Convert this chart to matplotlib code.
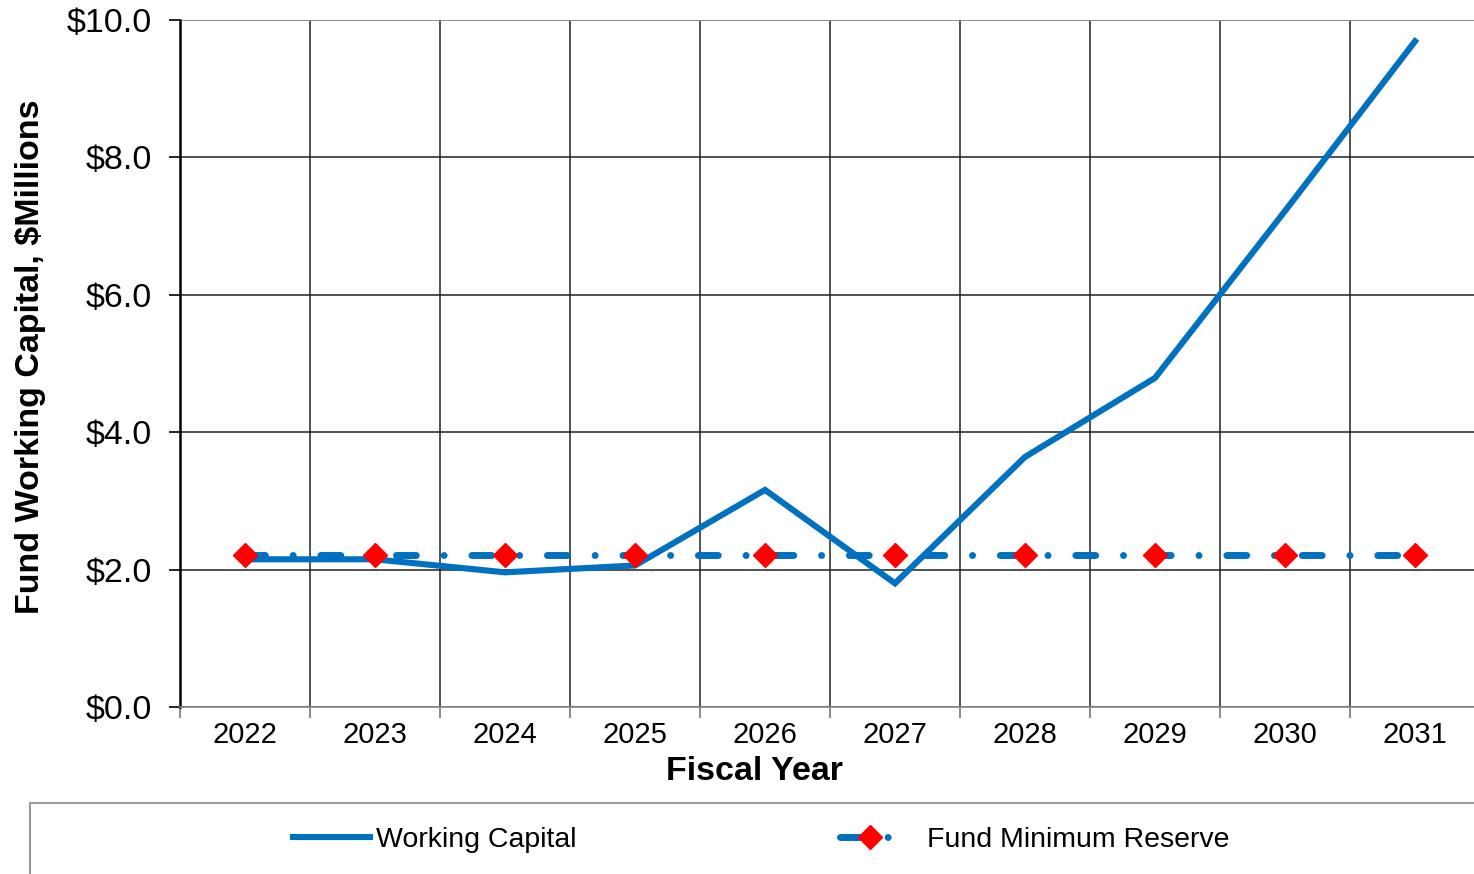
import matplotlib
matplotlib.use("Agg")
import matplotlib.pyplot as plt
from matplotlib.patches import Rectangle
from matplotlib.ticker import MultipleLocator, FixedLocator, FuncFormatter

years = ["2022", "2023", "2024", "2025", "2026", "2027", "2028", "2029", "2030", "2031"]
working_capital = [2.15, 2.15, 1.96, 2.06, 3.16, 1.80, 3.64, 4.79, 7.22, 9.69]
min_reserve = [2.21, 2.21, 2.21, 2.21, 2.21, 2.21, 2.21, 2.21, 2.21, 2.21]

plt.rcParams['font.family'] = ['Liberation Sans', 'DejaVu Sans']

W, H = 1474, 874
fig = plt.figure(figsize=(W / 100, H / 100), dpi=100)
ax = fig.add_axes([180 / W, 1 - 707 / H, 1300 / W, (707 - 20) / H])

x = list(range(len(years)))
blue = "#0070C0"
ax.plot(x, working_capital, color=blue, lw=4.4, solid_joinstyle='miter', zorder=3,
        label="Working Capital")
ax.plot(x, min_reserve, color=blue, lw=5.0, linestyle=(0, (2.86, 4.0, 0.01, 4.0)),
        dash_capstyle='round', marker='D', markersize=12, markerfacecolor='red',
        markeredgecolor='red', zorder=4, label="Fund Minimum Reserve")

ax.set_xlim(-0.5, len(years) - 0.5)
ax.set_ylim(0, 10)
ax.yaxis.set_major_locator(MultipleLocator(2))
ax.yaxis.set_major_formatter(FuncFormatter(lambda v, p: f"${v:.1f}"))
ax.set_xticks(x)
ax.set_xticklabels(years)
ax.xaxis.set_minor_locator(FixedLocator([i - 0.5 for i in range(len(years) + 1)]))

ax.grid(True, which='major', axis='y', color='#222222', lw=1.1)
ax.grid(True, which='minor', axis='x', color='#222222', lw=1.1)
ax.set_axisbelow(True)

ax.tick_params(axis='x', which='major', length=0, labelsize=21, pad=10)
ax.tick_params(axis='x', which='minor', length=8, width=1.2, color='#777777', direction='out')
ax.tick_params(axis='y', which='major', length=8, width=1.2, color='black', direction='out',
               labelsize=24.5, pad=12)

for s in ['top', 'right']:
    ax.spines[s].set_visible(False)
ax.spines['left'].set_color('black')
ax.spines['left'].set_linewidth(1.8)
ax.spines['bottom'].set_color('#888888')
ax.spines['bottom'].set_linewidth(1.2)
ax.axhline(10, color='#999999', lw=1.2, zorder=1)

ax.set_xlabel("Fiscal Year", fontsize=24.5, fontweight='bold')
ax.xaxis.set_label_coords((755 - 180) / 1300, -(772 - 707) / 687, transform=ax.transAxes)
ax.xaxis.label.set_va('center')
ax.set_ylabel("Fund Working Capital, $Millions", fontsize=24.5, fontweight='bold')
ax.yaxis.set_label_coords(-(180 - 30) / 1300, (707 - 357) / 687, transform=ax.transAxes)
ax.yaxis.label.set_va('center')

fig.patches.append(Rectangle((30 / W, -0.05), 1.2, (874 - 803) / H + 0.05,
                             transform=fig.transFigure, facecolor='none',
                             edgecolor='#999999', lw=1.5))

h, l = ax.get_legend_handles_labels()
fig.legend([h[0]], [l[0]], loc='center left', bbox_to_anchor=(293 / W, 1 - 840 / H),
           frameon=False, fontsize=20.5, handlelength=2.7, handletextpad=0.2,
           borderpad=0, borderaxespad=0)
fig.legend([h[1]], [l[1]], loc='center left', bbox_to_anchor=(840 / W, 1 - 840 / H),
           frameon=False, fontsize=20.5, handlelength=2.1, handletextpad=0.95,
           borderpad=0, borderaxespad=0, numpoints=1)

fig.savefig("out.png", dpi=100)
